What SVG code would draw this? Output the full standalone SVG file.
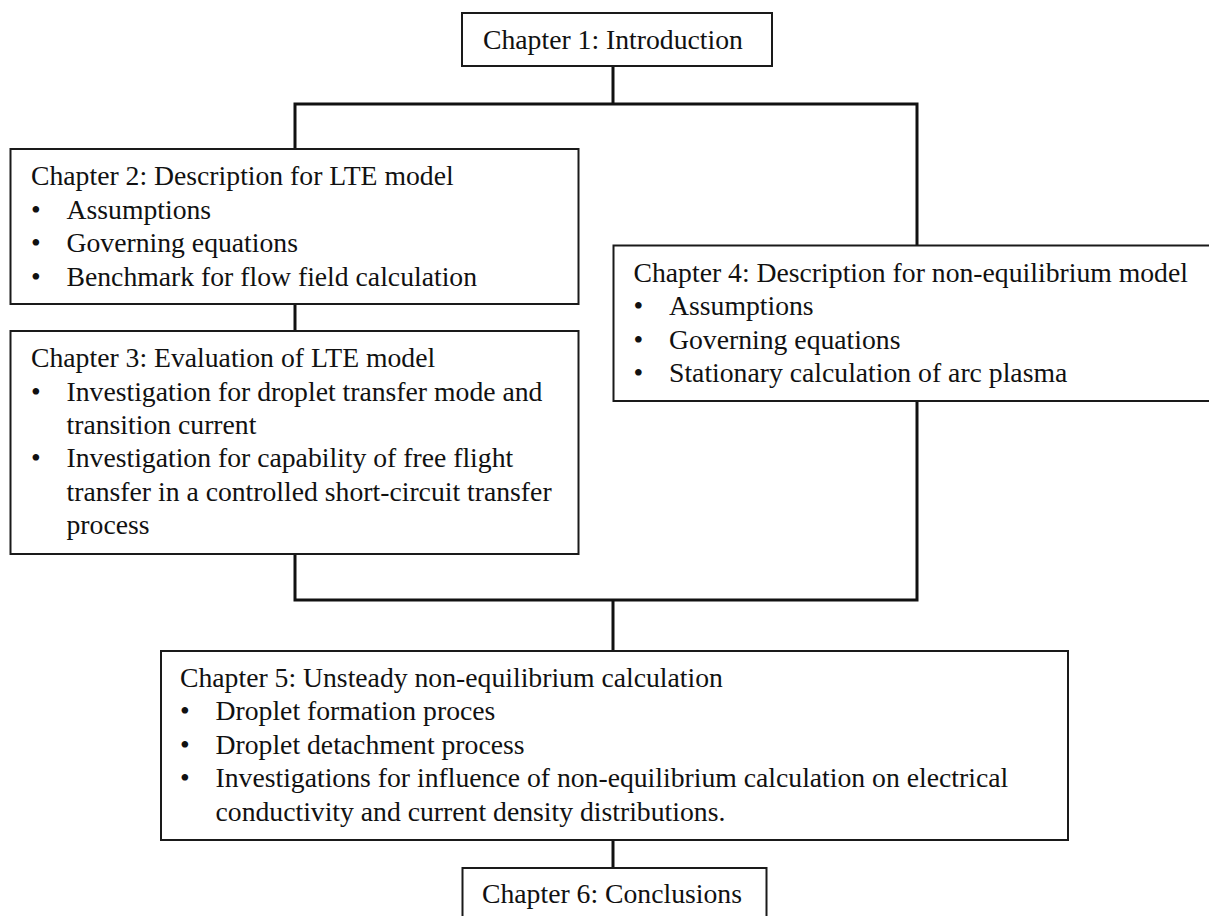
<svg xmlns="http://www.w3.org/2000/svg" width="1209" height="916" viewBox="0 0 1209 916">
<style>
.box{fill:#fff;stroke:#1a1a1a;stroke-width:2}
.ln{fill:none;stroke:#111;stroke-width:3;stroke-linecap:square}
text{font-family:"Liberation Serif","Times New Roman",serif;font-size:27.7px;fill:#111}
</style>
<rect width="1209" height="916" fill="#fff"/>
<g id="connectors">
<path class="ln" d="M613,66 V104 M295,104 H917 M295,104 V149 M917,104 V245"/>
<path class="ln" d="M295,304 V331"/>
<path class="ln" d="M295,554 V600 H917 V401 M613,600 V651"/>
<path class="ln" d="M613,840 V868"/>
</g>
<g id="ch1">
<rect class="box" x="462" y="13" width="310" height="53"/>
<text x="483" y="49">Chapter 1: Introduction</text>
</g>
<g id="ch2">
<rect class="box" x="10.5" y="149" width="568" height="155"/>
<text x="31" y="185">Chapter 2: Description for LTE model</text>
<text x="31" y="218.5">•</text><text x="66.5" y="218.5">Assumptions</text>
<text x="31" y="252">•</text><text x="66.5" y="252">Governing equations</text>
<text x="31" y="285.5">•</text><text x="66.5" y="285.5">Benchmark for flow field calculation</text>
</g>
<g id="ch3">
<rect class="box" x="10.5" y="331" width="568" height="223"/>
<text x="31" y="367">Chapter 3: Evaluation of LTE model</text>
<text x="31" y="400.5">•</text><text x="66.5" y="400.5">Investigation for droplet transfer mode and</text>
<text x="66.5" y="434">transition current</text>
<text x="31" y="467">•</text><text x="66.5" y="467">Investigation for capability of free flight</text>
<text x="66.5" y="500.5">transfer in a controlled short-circuit transfer</text>
<text x="66.5" y="534">process</text>
</g>
<g id="ch4">
<rect class="box" x="613.5" y="245.5" width="600" height="155.5"/>
<text x="633.5" y="282">Chapter 4: Description for non-equilibrium model</text>
<text x="633.5" y="315">•</text><text x="669" y="315">Assumptions</text>
<text x="633.5" y="348.5">•</text><text x="669" y="348.5">Governing equations</text>
<text x="633.5" y="382">•</text><text x="669" y="382">Stationary calculation of arc plasma</text>
</g>
<g id="ch5">
<rect class="box" x="161" y="651" width="907" height="189"/>
<text x="180" y="687">Chapter 5: Unsteady non-equilibrium calculation</text>
<text x="180" y="720">•</text><text x="215.5" y="720">Droplet formation proces</text>
<text x="180" y="753.5">•</text><text x="215.5" y="753.5">Droplet detachment process</text>
<text x="180" y="787">•</text><text x="215.5" y="787">Investigations for influence of non-equilibrium calculation on electrical</text>
<text x="215.5" y="820.5">conductivity and current density distributions.</text>
</g>
<g id="ch6">
<rect class="box" x="462.5" y="868" width="304" height="60"/>
<text x="482" y="903">Chapter 6: Conclusions</text>
</g>
</svg>
